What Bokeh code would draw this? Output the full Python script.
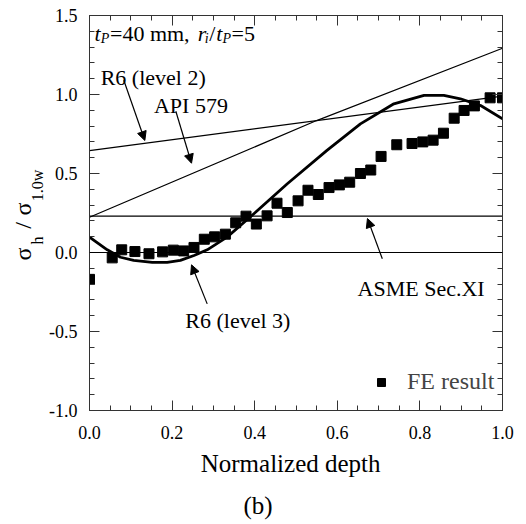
from bokeh.plotting import figure
from bokeh.models import (Range1d, LinearAxis, FixedTicker, PrintfTickFormatter,
                          CustomJSTickFormatter, Label, Arrow, NormalHead, Span,
                          Legend, LegendItem)
from bokeh.embed import file_html
from bokeh.resources import INLINE

FONT = "Liberation Serif"

# ---- data ----
fe_x = [0.0, 0.055, 0.078, 0.11, 0.144, 0.177, 0.203, 0.228, 0.253, 0.278, 0.303,
        0.329, 0.354, 0.379, 0.404, 0.430, 0.454, 0.479, 0.505, 0.529, 0.554, 0.58,
        0.605, 0.630, 0.656, 0.681, 0.706, 0.744, 0.781, 0.807, 0.832, 0.857, 0.883,
        0.907, 0.932, 0.970, 1.0]
fe_y = [-0.17, -0.034, 0.017, 0.006, -0.008, 0.004, 0.015, 0.01, 0.032, 0.084, 0.099,
        0.116, 0.188, 0.23, 0.18, 0.232, 0.312, 0.253, 0.327, 0.394, 0.367, 0.411,
        0.428, 0.445, 0.5, 0.522, 0.608, 0.682, 0.69, 0.70, 0.711, 0.755, 0.85,
        0.899, 0.928, 0.979, 0.979]

r6l3_x = [0.0, 0.043, 0.075, 0.107, 0.152, 0.188, 0.22, 0.253, 0.285, 0.333, 0.398,
          0.479, 0.575, 0.656, 0.737, 0.81, 0.858, 0.898, 0.947, 1.0]
r6l3_y = [0.097, 0.017, -0.03, -0.05, -0.063, -0.063, -0.05, -0.019, 0.017, 0.097,
          0.245, 0.435, 0.646, 0.814, 0.941, 0.994, 0.994, 0.973, 0.93, 0.846]

r6l2_x = [0.0, 1.0]
r6l2_y = [0.645, 0.99]

api_x = [0.0, 0.55, 1.0]
api_y = [0.223, 0.835, 1.293]

asme_x = [0.0, 1.0]
asme_y = [0.23, 0.23]

x_ticks = [0.0, 0.2, 0.4, 0.6, 0.8, 1.0]
x_minor = [0.05, 0.1, 0.15, 0.25, 0.3, 0.35, 0.45, 0.5, 0.55, 0.65, 0.7, 0.75, 0.85, 0.9, 0.95]
y_ticks = [-1.0, -0.5, 0.0, 0.5, 1.0, 1.5]
y_minor = [-0.9, -0.8, -0.7, -0.6, -0.4, -0.3, -0.2, -0.1, 0.1, 0.2, 0.3, 0.4,
           0.6, 0.7, 0.8, 0.9, 1.1, 1.2, 1.3, 1.4]

x_title = "Normalized depth"
panel_tag = "(b)"
# y title pieces: sigma_h / sigma_1.0w
y_title_main = ["σ", "/", "σ"]
y_title_sub = ["h", "1.0w"]

p = figure(frame_width=413, frame_height=395,
           min_border_left=89, min_border_right=20, min_border_top=15, min_border_bottom=110,
           x_range=Range1d(0, 1), y_range=Range1d(-1, 1.5),
           x_axis_type=None, y_axis_type=None,
           output_backend="svg", toolbar_location=None)
p.outline_line_color = "#333333"
p.background_fill_color = "white"
p.border_fill_color = "white"

AX = "#333333"


def make_axis(ticks, minor, labels, standoff=10):
    ax = LinearAxis(ticker=FixedTicker(ticks=ticks, minor_ticks=minor))
    ax.axis_line_color = AX
    ax.major_tick_line_color = AX
    ax.minor_tick_line_color = AX
    ax.major_tick_in = 10
    ax.major_tick_out = 0
    ax.minor_tick_in = 5
    ax.minor_tick_out = 0
    if labels:
        ax.formatter = PrintfTickFormatter(format="%.1f")
        ax.major_label_text_font = FONT
        ax.major_label_text_font_size = "18px"
        ax.major_label_text_color = "black"
        ax.major_label_standoff = standoff
    else:
        ax.formatter = CustomJSTickFormatter(code="return ''")
        ax.major_label_text_font_size = "0px"
        ax.major_label_standoff = 0
    return ax


def text_axis(positions, texts, size, standoff, vertical=False):
    ax = LinearAxis(ticker=FixedTicker(ticks=positions, minor_ticks=[]))
    ax.major_label_overrides = {pos: t for pos, t in zip(positions, texts)}
    ax.axis_line_color = None
    ax.major_tick_line_color = None
    ax.minor_tick_line_color = None
    ax.major_tick_in = 0
    ax.major_tick_out = 0
    ax.minor_tick_in = 0
    ax.minor_tick_out = 0
    ax.major_label_text_font = FONT
    ax.major_label_text_font_size = f"{size}px"
    ax.major_label_text_color = "black"
    ax.major_label_standoff = standoff
    if vertical:
        ax.major_label_orientation = "vertical"
    return ax


p.add_layout(make_axis(x_ticks, x_minor, True, 15), "below")
p.add_layout(make_axis(y_ticks, y_minor, True, 12), "left")
p.add_layout(make_axis(x_ticks, x_minor, False), "above")
p.add_layout(make_axis(y_ticks, y_minor, False), "right")

# axis titles placed as label-only axes (positions along the axis in data units)
p.add_layout(text_axis([0.487], [x_title], 25, 8), "below")
p.add_layout(text_axis([0.408], [panel_tag], 25, 12), "below")
p.add_layout(text_axis([0.076, 0.424], y_title_sub, 16, 0, vertical=True), "left")
p.add_layout(text_axis([-0.009, 0.171, 0.275], y_title_main, 24, -10, vertical=True), "left")

# ---- lines ----
p.add_layout(Span(location=0.0, dimension="width", line_color="black", line_width=1.1))
p.line(asme_x, asme_y, line_color="black", line_width=1.2)
p.line(r6l2_x, r6l2_y, line_color="black", line_width=1.2)
p.line(api_x, api_y, line_color="black", line_width=1.2)
p.line(r6l3_x, r6l3_y, line_color="black", line_width=2.8, line_join="round")
fe = p.scatter(fe_x, fe_y, marker="square", size=10, fill_color="black", line_color="black")

legend = Legend(items=[LegendItem(label="FE result", renderers=[fe])], location=(282, 15))
legend.label_text_font = FONT
legend.label_text_font_size = "24px"
legend.background_fill_alpha = 0
legend.border_line_alpha = 0
legend.padding = 0
legend.margin = 0
legend.spacing = 0
legend.glyph_width = 20
legend.glyph_height = 24
legend.label_height = 24
legend.label_standoff = 16
p.add_layout(legend)


def lab(x, y, text, size, italic=False, align="left"):
    p.add_layout(Label(x=x, y=y, text=text, text_font=FONT, text_font_size=f"{size}px",
                       text_font_style="italic" if italic else "normal",
                       text_color="black", text_align=align,
                       text_baseline="alphabetic"))


def arrow(xs, ys, xe, ye):
    p.add_layout(Arrow(x_start=xs, y_start=ys, x_end=xe, y_end=ye, line_width=1.2,
                       line_color="black",
                       end=NormalHead(size=9, fill_color="black", line_color="black")))


# annotations
lab(0.027, 1.106, "R6 (level 2)", 22)
arrow(0.083, 1.09, 0.134, 0.709)
lab(0.156, 0.930, "API 579", 22)
arrow(0.209, 0.894, 0.247, 0.565)
lab(0.649, -0.23, "ASME Sec.XI", 22)
arrow(0.709, -0.04, 0.673, 0.215)
lab(0.232, -0.43, "R6 (level 3)", 22)
arrow(0.285, -0.325, 0.247, -0.078)

# header: t_P=40 mm, r_i/t_P=5
lab(0.0121, 1.386, "t", 22, italic=True)
lab(0.0274, 1.354, "P", 14, italic=True)
lab(0.0496, 1.386, "=40 mm,", 22)
lab(0.262, 1.386, "r", 22, italic=True)
lab(0.279, 1.354, "i", 14, italic=True)
lab(0.290, 1.386, "/", 22)
lab(0.307, 1.386, "t", 22, italic=True)
lab(0.322, 1.354, "P", 14, italic=True)
lab(0.344, 1.386, "=5", 22)

open("out.html", "w").write(file_html(p, INLINE))
